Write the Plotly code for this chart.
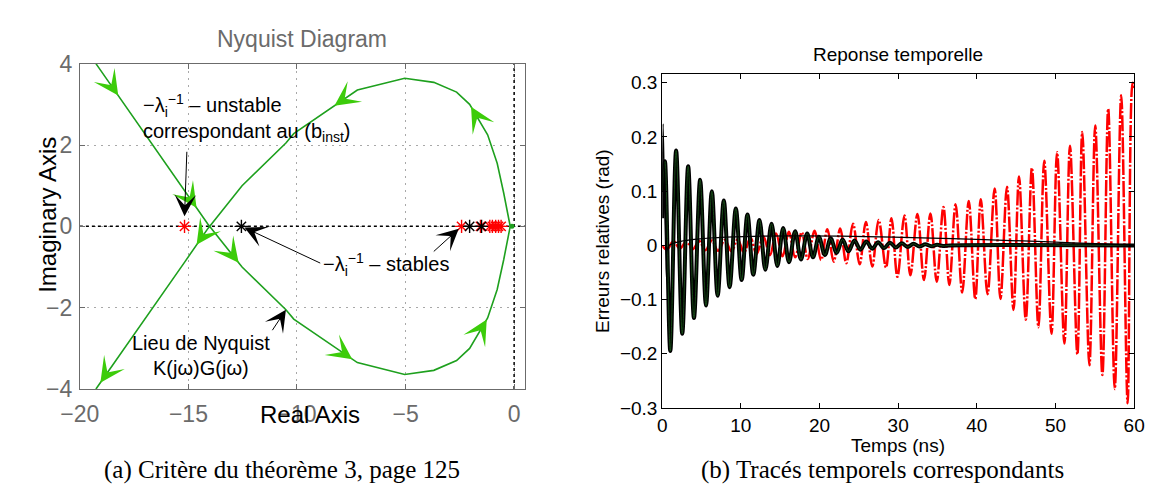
import math
import plotly.graph_objects as go

W, H = 1154, 499

# ---------------- Left panel: Nyquist diagram data ----------------
# one branch of the locus: from the right real-axis crossing, round the upper loop, down to the bottom-left
nyq_re_branch = [-0.18, -0.48, -0.78, -1.22, -2.05, -2.65, -3.70, -5.04, -7.22,
                 -10.15, -10.51, -12.53, -14.10, -15.15, -19.26]
nyq_im_branch = [0.0, 0.82, 1.55, 2.25, 3.00, 3.30, 3.54, 3.64, 3.35,
                 2.28, 2.05, 1.00, -0.05, -0.86, -4.00]
nyq_dot_re = [-0.10]
nyq_dot_im = [0.0]
unstable_re = [-15.18, -2.42, -1.55, -1.12, -1.00, -0.85, -0.72, -0.60]
stable_re = [-12.56, -2.05, -1.50]
# direction arrows along the locus: (segment index, fraction of segment)
arrow_pos = [(0, 0.25), (1, 0.5), (2, 0.9), (5, 0.92), (10, 0.95),
             (17, 0.92), (22, 0.36), (26, 0.5), (27, 0.95)]
nyq_xticks = [-20, -15, -10, -5, 0]
nyq_yticks = [-4, -2, 0, 2, 4]

# ---------------- Right panel: time responses ----------------
black_t = [0.0, 0.35, 1.03, 1.77, 2.55, 3.30, 4.04, 4.82, 5.57, 6.31, 7.05, 7.83, 8.57,
           9.36, 10.10, 10.84, 11.58, 12.37, 13.11, 13.90, 14.64, 15.38, 16.12, 16.90,
           17.64, 18.43, 19.17, 19.92, 20.68, 21.42, 22.18, 22.93, 23.68, 24.44, 25.20,
           25.95, 26.70, 27.45, 28.20, 28.95, 29.70, 30.45, 31.20, 31.95, 32.70, 33.45,
           34.20, 34.95, 35.70, 36.50, 60.0]
black_v = [0.05, 0.155, -0.195, 0.175, -0.163, 0.146, -0.134, 0.121, -0.111, 0.100, -0.093,
           0.083, -0.077, 0.068, -0.064, 0.057, -0.054, 0.047, -0.045, 0.040, -0.038, 0.032,
           -0.031, 0.026, -0.026, 0.022, -0.022, 0.016, -0.018, 0.013, -0.014, 0.011, -0.011,
           0.009, -0.008, 0.007, -0.006, 0.006, -0.005, 0.005, -0.004, 0.004, -0.003, 0.003,
           -0.002, 0.002, -0.0015, 0.001, -0.001, 0.0, 0.0]
green_t = black_t
green_v = [0.10] + black_v[1:]
thin_t = [0.0, 0.12, 0.55, 0.90, 60.0]
thin_v = [0.10, 0.224, -0.058, 0.0, 0.0]
red_t = [0.0, 0.60, 1.44, 2.25, 3.07, 3.90, 4.70, 5.50, 6.33, 7.10, 7.96, 8.80, 9.59,
         10.40, 11.22, 12.00, 12.85, 13.70, 14.48, 15.30, 16.11, 16.90, 17.74, 18.50,
         19.37, 20.20, 21.00, 21.80, 22.63, 23.40, 24.26, 25.10, 25.89, 26.70, 27.52,
         28.45, 29.15, 29.90, 30.80, 31.55, 32.45, 33.28, 34.10, 34.90, 35.75, 36.50,
         37.30, 38.14, 38.97, 39.80, 40.50, 41.36, 42.26, 43.00, 43.83, 44.66, 45.36,
         46.22, 47.00, 47.83, 48.57, 49.49, 50.20, 51.13, 51.84, 52.78, 53.40, 54.31,
         55.05, 55.96, 56.70, 57.53, 58.35, 59.17, 59.80, 60.0]
red_v = [0.0, -0.008, 0.008, -0.006, 0.007, -0.007, 0.008, -0.009, 0.009, -0.010, 0.010,
         -0.011, 0.011, -0.013, 0.014, -0.016, 0.017, -0.018, 0.022, -0.020, 0.025, -0.022,
         0.024, -0.025, 0.027, -0.027, 0.030, -0.030, 0.031, -0.033, 0.040, -0.035, 0.043,
         -0.039, 0.047, -0.041, 0.050, -0.058, 0.055, -0.055, 0.058, -0.064, 0.059, -0.067,
         0.071, -0.073, 0.076, -0.087, 0.082, -0.099, 0.085, -0.090, 0.105, -0.099, 0.108,
         -0.119, 0.127, -0.137, 0.143, -0.151, 0.156, -0.163, 0.172, -0.181, 0.184, -0.201,
         0.209, -0.221, 0.221, -0.239, 0.252, -0.265, 0.277, -0.291, 0.300, 0.290]
resp_xticks = [0, 10, 20, 30, 40, 50, 60]
resp_yticks = [-0.3, -0.2, -0.1, 0, 0.1, 0.2, 0.3]
resp_yticktext = ["\u22120.3", "\u22120.2", "\u22120.1", "0", "0.1", "0.2", "0.3"]

# ---------------- geometry ----------------
L_X0, L_X1, L_Y0, L_Y1 = 53.3, 510.7, 45.0, 388.3
R_X0, R_X1, R_Y0, R_Y1 = 651.7, 1136.7, 56.0, 408.3
NYQ_XR = [-20, 0.5]
NYQ_YR = [-4, 4]
RESP_XR = [0, 60]
RESP_YR = [-0.3, 0.316]

SANS = "Liberation Sans, Arial, sans-serif"
SERIF = "Liberation Serif, Times New Roman, serif"
GRAY = "#6b6b6b"
LINE_GREEN = "#1ea01e"
ARROW_GREEN = "#3ccc0a"

fig = go.Figure()

# full Nyquist path (mirror branch for negative frequencies + branch)
nyq_re = nyq_re_branch[::-1] + nyq_re_branch[1:]
nyq_im = [-v for v in nyq_im_branch[::-1]] + nyq_im_branch[1:]

# reference dotted axes lines
fig.add_trace(go.Scatter(x=NYQ_XR, y=[0, 0], mode="lines", xaxis="x", yaxis="y",
                         line=dict(color="black", width=1.5, dash="dot"), hoverinfo="skip"))
fig.add_trace(go.Scatter(x=[0, 0], y=NYQ_YR, mode="lines", xaxis="x", yaxis="y",
                         line=dict(color="black", width=1.5, dash="dot"), hoverinfo="skip"))

fig.add_trace(go.Scatter(x=nyq_re, y=nyq_im, mode="lines", xaxis="x", yaxis="y",
                         line=dict(color=LINE_GREEN, width=1.6), hoverinfo="skip"))
fig.add_trace(go.Scatter(x=nyq_dot_re, y=nyq_dot_im, mode="markers", xaxis="x", yaxis="y",
                         marker=dict(color=LINE_GREEN, size=5), hoverinfo="skip"))
fig.add_trace(go.Scatter(x=unstable_re, y=[0] * len(unstable_re), mode="markers", xaxis="x", yaxis="y",
                         marker=dict(symbol="asterisk-open", size=11, color="#ff0000",
                                     line=dict(color="#ff0000", width=1.4)),
                         hoverinfo="skip"))
fig.add_trace(go.Scatter(x=stable_re, y=[0] * len(stable_re), mode="markers", xaxis="x", yaxis="y",
                         marker=dict(symbol="asterisk-open", size=11, color="black",
                                     line=dict(color="black", width=1.4)),
                         hoverinfo="skip"))

# ---------------- right panel traces ----------------
fig.add_trace(go.Scatter(x=red_t, y=red_v, mode="lines", xaxis="x2", yaxis="y2", line_shape="spline",
                         line=dict(color="#ff0000", width=2.5, dash="16px,2px,2px,2px"), hoverinfo="skip"))
fig.add_trace(go.Scatter(x=black_t, y=black_v, mode="lines", xaxis="x2", yaxis="y2", line_shape="spline",
                         line=dict(color="black", width=4), hoverinfo="skip"))
fig.add_trace(go.Scatter(x=green_t, y=green_v, mode="lines", xaxis="x2", yaxis="y2", line_shape="spline",
                         line=dict(color="#1d5a1d", width=0.8), hoverinfo="skip"))
fig.add_trace(go.Scatter(x=thin_t, y=thin_v, mode="lines", xaxis="x2", yaxis="y2", line_shape="spline",
                         line=dict(color="black", width=1.3, smoothing=0.6), hoverinfo="skip"))

annotations = []

# green direction arrows along the locus
sx = (L_X1 - L_X0) / (NYQ_XR[1] - NYQ_XR[0])
sy = (L_Y1 - L_Y0) / (NYQ_YR[1] - NYQ_YR[0])
for seg, frac in arrow_pos:
    x0, y0 = nyq_re[seg], nyq_im[seg]
    x1, y1 = nyq_re[seg + 1], nyq_im[seg + 1]
    tx, ty = x0 + (x1 - x0) * frac, y0 + (y1 - y0) * frac
    ux, uy = (x1 - x0) * sx, -(y1 - y0) * sy
    n = math.hypot(ux, uy)
    ux, uy = ux / n, uy / n
    annotations.append(dict(x=tx, y=ty, xref="x", yref="y", ax=-ux * 14, ay=-uy * 14,
                            showarrow=True, arrowhead=3, arrowsize=2.6, arrowwidth=1.6,
                            arrowcolor=ARROW_GREEN, text=""))

# black pointer arrows (data coords)
pointers = [((-15.07, 1.87), (-15.18, 0.25)),
            ((-8.86, -0.92), (-12.42, -0.03)),
            ((-3.77, -0.65), (-2.55, -0.06)),
            ((-11.18, -2.59), (-10.51, -2.05))]
for (ax_, ay_), (x_, y_) in pointers:
    annotations.append(dict(x=x_, y=y_, xref="x", yref="y", ax=ax_, ay=ay_, axref="x", ayref="y",
                            showarrow=True, arrowhead=3, arrowsize=3.6, arrowwidth=1,
                            arrowcolor="black", text=""))

TXT = dict(family=SANS, size=20, color="black")
annotations += [
    dict(x=-17.2, y=2.96, xref="x", yref="y", xanchor="left", yanchor="middle", showarrow=False,
         text="\u2212\u03bb<sub>i</sub><sup>\u22121</sup> \u2013 unstable", font=TXT),
    dict(x=-17.2, y=2.30, xref="x", yref="y", xanchor="left", yanchor="middle", showarrow=False,
         text="correspondant au (b<sub>inst</sub>)", font=TXT),
    dict(x=-8.9, y=-0.93, xref="x", yref="y", xanchor="left", yanchor="middle", showarrow=False,
         text="\u2212\u03bb<sub>i</sub><sup>\u22121</sup> \u2013 stables", font=TXT),
    dict(x=-14.4, y=-2.87, xref="x", yref="y", xanchor="center", yanchor="middle", showarrow=False,
         text="Lieu de Nyquist", font=TXT),
    dict(x=-14.4, y=-3.49, xref="x", yref="y", xanchor="center", yanchor="middle", showarrow=False,
         text="K(j\u03c9)G(j\u03c9)", font=TXT),
]

# titles and axis labels (paper coords from pixel positions)
def pxp(px, py):
    return px / W, 1 - py / H

def lab(px, py, text, size, color="black", family=SANS, angle=0):
    x, y = pxp(px, py)
    return dict(x=x, y=y, xref="paper", yref="paper", xanchor="center", yanchor="middle",
                showarrow=False, text=text, textangle=angle,
                font=dict(family=family, size=size, color=color))

annotations += [
    lab(282, 19, "Nyquist Diagram", 23, GRAY),
    lab(290, 415, "Real Axis", 24),
    lab(20, 204, "Imaginary Axis", 24, angle=-90),
    lab(894, 35, "Reponse temporelle", 19),
    lab(894, 448, "Temps (ns)", 19),
    lab(591, 232, "Erreurs relatives (rad)", 19, angle=-90),
    lab(261, 474, "(a) Critère du théorème 3, page 125", 25, family=SERIF),
    lab(878, 474, "(b) Tracés temporels correspondants", 25, family=SERIF),
]

fig.update_layout(
    width=W, height=H, margin=dict(l=0, r=0, t=0, b=0),
    paper_bgcolor="white", plot_bgcolor="white", showlegend=False,
    annotations=annotations,
    xaxis=dict(domain=[L_X0 / W, L_X1 / W], range=NYQ_XR, anchor="y",
               tickvals=nyq_xticks, ticks="inside", ticklen=5, tickcolor=GRAY,
               showline=True, linecolor=GRAY, linewidth=1, mirror="ticks",
               showgrid=True, gridcolor="#a8a8a8", gridwidth=1, griddash="2px,5px",
               zeroline=False, tickfont=dict(family=SANS, size=23, color=GRAY),
               ticklabelstandoff=4),
    yaxis=dict(domain=[1 - L_Y1 / H, 1 - L_Y0 / H], range=NYQ_YR, anchor="x",
               tickvals=nyq_yticks, ticks="inside", ticklen=5, tickcolor=GRAY,
               showline=True, linecolor=GRAY, linewidth=1, mirror="ticks",
               showgrid=True, gridcolor="#a8a8a8", gridwidth=1, griddash="2px,5px",
               zeroline=False, tickfont=dict(family=SANS, size=23, color=GRAY),
               ticklabelstandoff=2),
    xaxis2=dict(domain=[R_X0 / W, R_X1 / W], range=RESP_XR, anchor="y2",
                tickvals=resp_xticks, ticks="inside", ticklen=5, tickcolor="black",
                showline=True, linecolor="black", linewidth=1, mirror="ticks",
                showgrid=False, zeroline=False,
                tickfont=dict(family=SANS, size=19, color="black")),
    yaxis2=dict(domain=[1 - R_Y1 / H, 1 - R_Y0 / H], range=RESP_YR, anchor="x2",
                tickvals=resp_yticks, ticktext=resp_yticktext, ticks="inside", ticklen=5,
                tickcolor="black", showline=True, linecolor="black", linewidth=1, mirror="ticks",
                showgrid=False, zeroline=False,
                tickfont=dict(family=SANS, size=19, color="black"), ticklabelstandoff=0),
)

fig.write_html("out.html")
